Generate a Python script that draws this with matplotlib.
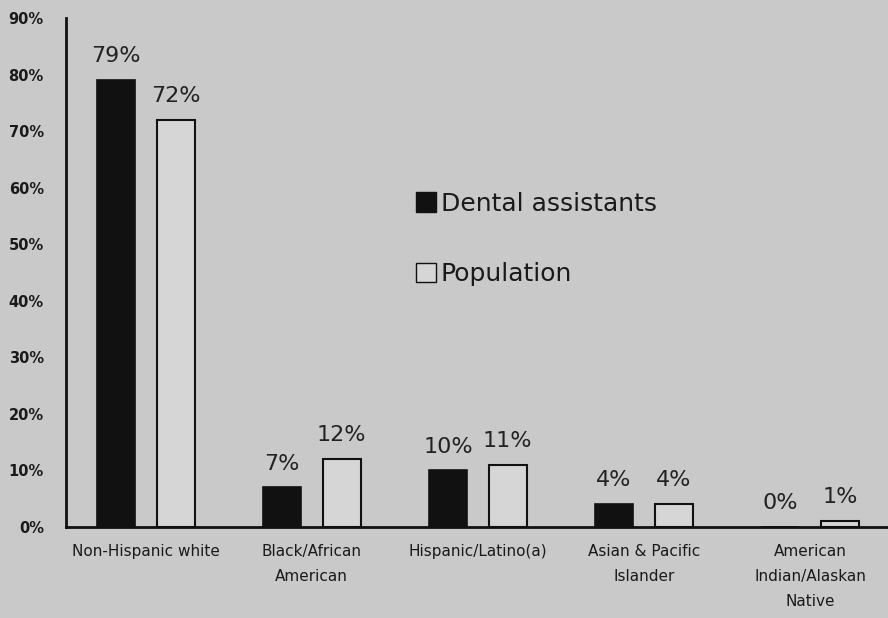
import matplotlib
matplotlib.use('Agg')
import matplotlib.pyplot as plt
import numpy as np
from matplotlib.patches import Patch

groups = ['Non-Hispanic white', 'Black/African\nAmerican', 'Hispanic/Latino(a)',
          'Asian & Pacific\nIslander', 'American\nIndian/Alaskan\nNative']
dental = [79, 7, 10, 4, 0]
population = [72, 12, 11, 4, 1]
yticks = [0, 10, 20, 30, 40, 50, 60, 70, 80, 90]

bg = '#c9c9c9'
fig = plt.figure(figsize=(8.88, 6.18), dpi=100, facecolor=bg)
ax = fig.add_axes([66/888, 91/618, 1 - 66/888, (527-18)/618])
ax.set_facecolor(bg)

x = np.arange(len(groups))
w = 0.23
off = 0.18
b1 = ax.bar(x - off, dental, w, color='#111111', edgecolor='#111111', linewidth=1.2)
b2 = ax.bar(x + off, population, w, color='#d6d6d6', edgecolor='#111111', linewidth=1.5)

for bars, vals in ((b1, dental), (b2, population)):
    for r, v in zip(bars, vals):
        ax.annotate('%d%%' % v, (r.get_x() + r.get_width()/2, v),
                    xytext=(0, 10), textcoords='offset points',
                    ha='center', va='bottom', fontsize=16, color='#222222')

ax.set_xlim(-0.48, 4.47)
ax.set_ylim(0, 90)
ax.set_yticks(yticks)
ax.set_yticklabels(['%d%%' % t for t in yticks], fontsize=10.5, fontweight='bold', color='#1a1a1a')
ax.set_xticks(x)
ax.set_xticklabels(groups, fontsize=11, linespacing=1.85, color='#1a1a1a')
ax.tick_params(axis='y', length=0, pad=16)
ax.tick_params(axis='x', length=0, pad=12)
for lbl in ax.get_xticklabels():
    lbl.set_verticalalignment('top')

for s in ['top', 'right']:
    ax.spines[s].set_visible(False)
for s in ['left', 'bottom']:
    ax.spines[s].set_linewidth(2)
    ax.spines[s].set_color('#111111')

handles = [Patch(facecolor='#111111', edgecolor='#111111', label='Dental assistants'),
           Patch(facecolor='#d6d6d6', edgecolor='#111111', label='Population')]
fig.legend(handles=handles, loc='upper left', bbox_to_anchor=(0.454, 0.71),
           frameon=False, fontsize=18, handlelength=0.8, handleheight=0.8,
           handletextpad=0.2, labelspacing=1.85, borderpad=0, labelcolor='#1a1a1a')

fig.savefig('out.png', dpi=100, facecolor=bg)
